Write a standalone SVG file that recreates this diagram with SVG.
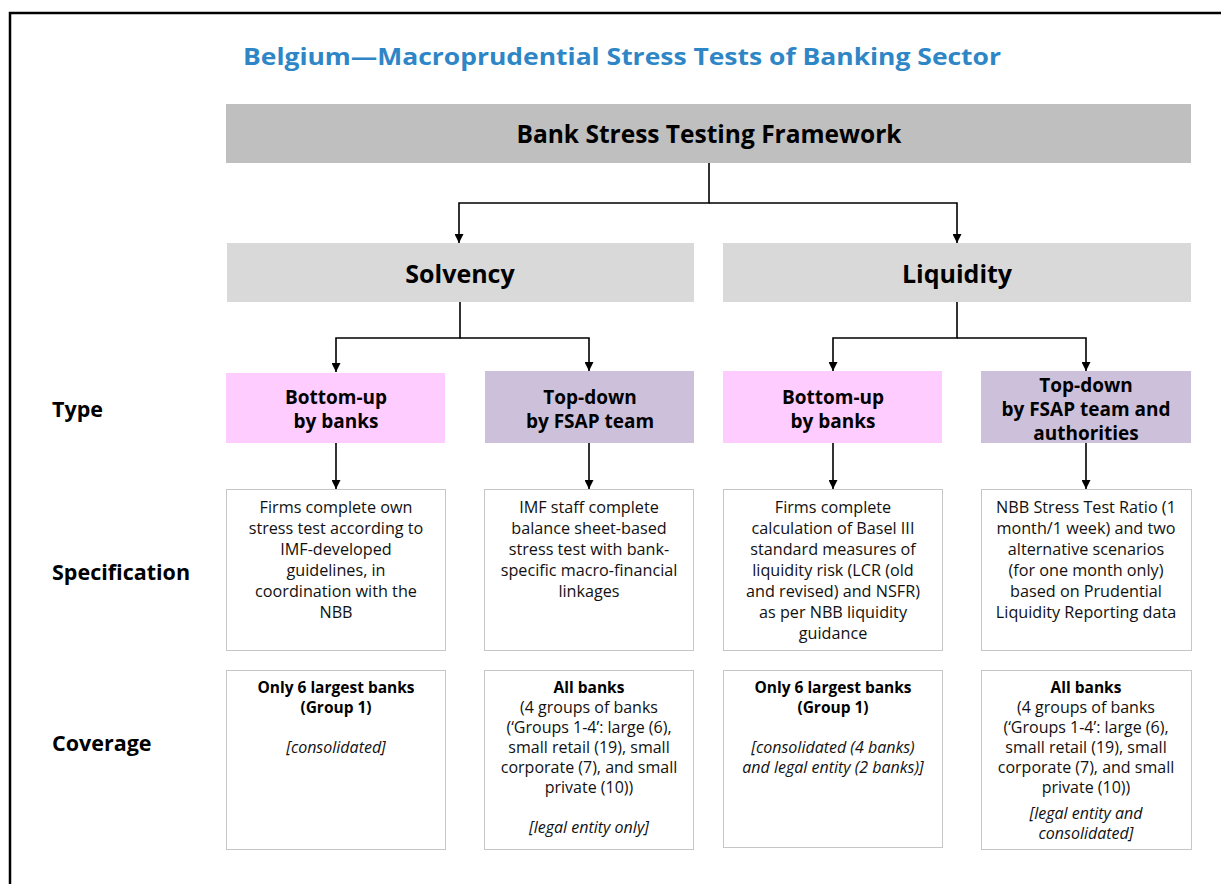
<svg xmlns="http://www.w3.org/2000/svg" width="1221" height="884" viewBox="0 0 1221 884">
  <style>
    .frame { fill: none; stroke: #000; stroke-width: 2.5; }
    .title { font-family: "Open Sans", "Noto Sans", sans-serif; font-weight: bold; font-size: 24px; fill: #2E86C6; }
    .head { font-family: "Open Sans", "Noto Sans", sans-serif; font-weight: bold; font-size: 25px; fill: #000; text-anchor: middle; }
    .typ { font-family: "Open Sans", "Noto Sans", sans-serif; font-weight: bold; font-size: 19px; fill: #000; text-anchor: middle; }
    .row { font-family: "Open Sans", "Noto Sans", sans-serif; font-weight: bold; font-size: 21.5px; fill: #000; }
    .body { font-family: "Open Sans", "Noto Sans", sans-serif; font-size: 16.2px; fill: #111; text-anchor: middle; }
    .cov { font-family: "Open Sans", "Noto Sans", sans-serif; font-size: 16px; fill: #111; text-anchor: middle; }
    .b { font-weight: bold; font-size: 15.5px; fill: #000; }
    .i { font-style: italic; }
    .dot { fill: #fff; stroke: #8c8c8c; stroke-width: 1; stroke-dasharray: 1 1; }
    .conn { fill: none; stroke: #000; stroke-width: 1.6; }
  </style>
  <defs>
    <marker id="arrow" viewBox="0 0 10 10" refX="10" refY="5" markerWidth="9" markerHeight="9" markerUnits="userSpaceOnUse" orient="auto">
      <path d="M0,0 L10,5 L0,10 z" fill="#000"/>
    </marker>
  </defs>

  <rect width="1221" height="884" fill="#fff"/>
  <!-- page frame: top and left rule -->
  <path class="frame" d="M10,884 L10,13 L1221,13"/>

  <text class="title" x="243" y="65" textLength="758" lengthAdjust="spacingAndGlyphs">Belgium—Macroprudential Stress Tests of Banking Sector</text>

  <!-- row labels -->
  <text class="row" x="52" y="417">Type</text>
  <text class="row" x="52" y="580">Specification</text>
  <text class="row" x="52" y="751">Coverage</text>

  <!-- connectors -->
  <g id="connectors">
    <path class="conn" d="M709,163 V203 H459 V243" marker-end="url(#arrow)"/>
    <path class="conn" d="M709,203 H957 V243" marker-end="url(#arrow)"/>
    <path class="conn" d="M460,302 V338 H336 V372" marker-end="url(#arrow)"/>
    <path class="conn" d="M460,338 H589 V371" marker-end="url(#arrow)"/>
    <path class="conn" d="M957,302 V338 H833 V371" marker-end="url(#arrow)"/>
    <path class="conn" d="M957,338 H1086 V371" marker-end="url(#arrow)"/>
    <path class="conn" d="M336,443 V489" marker-end="url(#arrow)"/>
    <path class="conn" d="M589,443 V489" marker-end="url(#arrow)"/>
    <path class="conn" d="M833,443 V489" marker-end="url(#arrow)"/>
    <path class="conn" d="M1086,443 V489" marker-end="url(#arrow)"/>
  </g>

  <g id="framework">
    <rect x="226" y="104" width="965" height="59" fill="#bfbfbf"/>
    <text class="head" x="709" y="143" textLength="385" lengthAdjust="spacingAndGlyphs">Bank Stress Testing Framework</text>
  </g>

  <g id="solvency">
    <rect x="227" y="243" width="467" height="59" fill="#d9d9d9"/>
    <text class="head" x="460" y="283">Solvency</text>
  </g>
  <g id="liquidity">
    <rect x="723" y="243" width="468" height="59" fill="#d9d9d9"/>
    <text class="head" x="957" y="283">Liquidity</text>
  </g>

  <!-- type -->
  <g id="type-sol-bu">
    <rect x="226" y="373" width="219" height="70" fill="#ffccff"/>
    <text class="typ" x="336" y="404">Bottom-up</text>
    <text class="typ" x="336" y="428">by banks</text>
  </g>
  <g id="type-sol-td">
    <rect x="485" y="371" width="209" height="72" fill="#ccc0da"/>
    <text class="typ" x="590" y="404">Top-down</text>
    <text class="typ" x="590" y="428">by FSAP team</text>
  </g>
  <g id="type-liq-bu">
    <rect x="723" y="371" width="219" height="72" fill="#ffccff"/>
    <text class="typ" x="833" y="404">Bottom-up</text>
    <text class="typ" x="833" y="428">by banks</text>
  </g>
  <g id="type-liq-td">
    <rect x="981" y="371" width="210" height="72" fill="#ccc0da"/>
    <text class="typ" x="1086" y="392">Top-down</text>
    <text class="typ" x="1086" y="416">by FSAP team and</text>
    <text class="typ" x="1086" y="440">authorities</text>
  </g>

  <!-- specification -->
  <g id="spec-sol-bu">
    <rect class="dot" x="226.5" y="489.5" width="219" height="161"/>
    <text class="body" x="336" y="513">Firms complete own</text>
    <text class="body" x="336" y="534">stress test according to</text>
    <text class="body" x="336" y="555">IMF-developed</text>
    <text class="body" x="336" y="576">guidelines, in</text>
    <text class="body" x="336" y="597">coordination with the</text>
    <text class="body" x="336" y="618">NBB</text>
  </g>
  <g id="spec-sol-td">
    <rect class="dot" x="484.5" y="489.5" width="209" height="161"/>
    <text class="body" x="589" y="513">IMF staff complete</text>
    <text class="body" x="589" y="534">balance sheet-based</text>
    <text class="body" x="589" y="555">stress test with bank-</text>
    <text class="body" x="589" y="576">specific macro-financial</text>
    <text class="body" x="589" y="597">linkages</text>
  </g>
  <g id="spec-liq-bu">
    <rect class="dot" x="723.5" y="489.5" width="219" height="161"/>
    <text class="body" x="833" y="513">Firms complete</text>
    <text class="body" x="833" y="534">calculation of Basel III</text>
    <text class="body" x="833" y="555">standard measures of</text>
    <text class="body" x="833" y="576">liquidity risk (LCR (old</text>
    <text class="body" x="833" y="597">and revised) and NSFR)</text>
    <text class="body" x="833" y="618">as per NBB liquidity</text>
    <text class="body" x="833" y="639">guidance</text>
  </g>
  <g id="spec-liq-td">
    <rect class="dot" x="981.5" y="489.5" width="210" height="161"/>
    <text class="body" x="1086" y="513">NBB Stress Test Ratio (1</text>
    <text class="body" x="1086" y="534">month/1 week) and two</text>
    <text class="body" x="1086" y="555">alternative scenarios</text>
    <text class="body" x="1086" y="576">(for one month only)</text>
    <text class="body" x="1086" y="597">based on Prudential</text>
    <text class="body" x="1086" y="618">Liquidity Reporting data</text>
  </g>

  <!-- coverage -->
  <g id="cov-sol-bu">
    <rect class="dot" x="226.5" y="670.5" width="219" height="179"/>
    <text class="cov b" x="336" y="693">Only 6 largest banks</text>
    <text class="cov b" x="336" y="713">(Group 1)</text>
    <text class="cov i" x="336" y="753">[consolidated]</text>
  </g>
  <g id="cov-sol-td">
    <rect class="dot" x="484.5" y="670.5" width="209" height="179"/>
    <text class="cov b" x="589" y="693">All banks</text>
    <text class="cov" x="589" y="713">(4 groups of banks</text>
    <text class="cov" x="589" y="733">(‘Groups 1-4’: large (6),</text>
    <text class="cov" x="589" y="753">small retail (19), small</text>
    <text class="cov" x="589" y="773">corporate (7), and small</text>
    <text class="cov" x="589" y="793">private (10))</text>
    <text class="cov i" x="589" y="833">[legal entity only]</text>
  </g>
  <g id="cov-liq-bu">
    <rect class="dot" x="723.5" y="670.5" width="219" height="177"/>
    <text class="cov b" x="833" y="693">Only 6 largest banks</text>
    <text class="cov b" x="833" y="713">(Group 1)</text>
    <text class="cov i" x="833" y="753">[consolidated (4 banks)</text>
    <text class="cov i" x="833" y="773">and legal entity (2 banks)]</text>
  </g>
  <g id="cov-liq-td">
    <rect class="dot" x="981.5" y="670.5" width="210" height="179"/>
    <text class="cov b" x="1086" y="693">All banks</text>
    <text class="cov" x="1086" y="713">(4 groups of banks</text>
    <text class="cov" x="1086" y="733">(‘Groups 1-4’: large (6),</text>
    <text class="cov" x="1086" y="753">small retail (19), small</text>
    <text class="cov" x="1086" y="773">corporate (7), and small</text>
    <text class="cov" x="1086" y="793">private (10))</text>
    <text class="cov i" x="1086" y="819">[legal entity and</text>
    <text class="cov i" x="1086" y="839">consolidated]</text>
  </g>
</svg>
